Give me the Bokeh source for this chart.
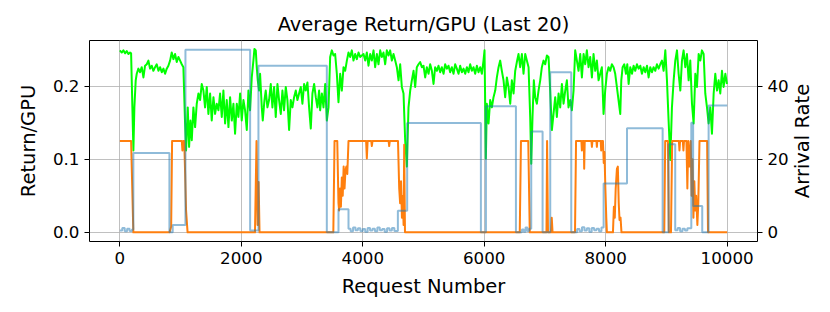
import math
from bokeh.plotting import figure
from bokeh.models import Range1d, LinearAxis, FixedTicker, PrintfTickFormatter, Label
from bokeh.embed import file_html
from bokeh.resources import INLINE

# ---- data ----
GREEN_X = [
    0, 31, 58, 86, 113, 141, 168, 185, 206, 223, 239, 261, 278, 305, 333, 360, 388, 415, 443, 470,
    497, 525, 552, 580, 607, 635, 662, 690, 717, 745, 772, 799, 827, 854, 882, 909, 937, 964, 992, 1019,
    1046, 1074, 1090, 1118, 1140, 1162, 1184, 1211, 1239, 1266, 1294, 1321, 1348, 1376, 1403, 1431, 1458, 1486, 1513, 1541,
    1568, 1595, 1623,
    1650, 1678, 1705, 1733, 1760, 1788, 1815, 1843, 1870, 1897, 1925, 1952, 1980, 2007, 2035, 2062, 2090, 2117, 2144, 2172,
    2199, 2216, 2238, 2254, 2271, 2293, 2309, 2337, 2353, 2381, 2402, 2430, 2457, 2485, 2512, 2540, 2567, 2595, 2622, 2650,
    2677, 2704, 2732, 2759, 2787, 2814, 2842, 2869, 2897, 2924, 2951, 2979, 3006, 3034, 3061, 3089, 3116, 3144, 3171, 3199,
    3226, 3253, 3281,
    3298, 3326, 3353, 3381, 3408, 3436, 3463, 3491, 3518, 3545, 3573, 3600, 3628, 3655, 3683, 3710, 3738, 3765, 3792, 3820,
    3847, 3875, 3902, 3930, 3957, 3985, 4012, 4040, 4067, 4094, 4122, 4149, 4177, 4204, 4232, 4259, 4287, 4314, 4341, 4369,
    4396, 4424, 4451, 4479, 4506, 4534, 4561, 4589, 4616, 4643, 4671, 4698, 4726, 4753, 4781, 4808, 4836, 4863, 4890, 4918,
    4945, 4973, 5000, 5028, 5055, 5083, 5110, 5138, 5165, 5192, 5220, 5247, 5275, 5302, 5330, 5357, 5385, 5412, 5439, 5467,
    5494, 5522, 5549, 5577, 5604, 5632, 5659, 5687, 5714, 5741, 5769, 5796, 5824, 5851, 5879, 5906, 5934, 5961, 5988, 6005,
    6027, 6043, 6071, 6098, 6126, 6153, 6181, 6208, 6236, 6263, 6290, 6318, 6345, 6373, 6400, 6428, 6455, 6483, 6510, 6537,
    6565,
    6592, 6620, 6647, 6675, 6702, 6730, 6757, 6774, 6795, 6817, 6839, 6867, 6894, 6922, 6949, 6977, 7004, 7032, 7059, 7086,
    7114, 7141, 7169, 7196, 7224, 7251, 7279, 7306, 7334, 7361, 7388, 7416, 7443, 7471, 7498, 7526, 7553, 7581, 7608, 7636,
    7663, 7690, 7718, 7745, 7773, 7800, 7828, 7855, 7883, 7910, 7937, 7965, 7992, 8020, 8047, 8075, 8102, 8130, 8157, 8184,
    8240, 8257, 8279, 8306, 8334, 8356, 8378, 8405, 8433, 8460, 8487, 8515, 8542, 8570, 8597, 8625, 8652, 8680, 8707, 8734,
    8762, 8789, 8817, 8844, 8872, 8899, 8927, 8954, 8982, 9009, 9036, 9064, 9091, 9119, 9146, 9174, 9201, 9229, 9256, 9283,
    9311, 9338, 9366, 9393, 9421, 9448, 9476, 9503, 9531, 9558, 9585, 9613, 9640, 9668, 9695, 9723, 9750, 9778, 9805, 9833,
    9860, 9887, 9915, 9942, 9970, 9997,
]
GREEN_Y = [
    0.249, 0.246, 0.249, 0.245, 0.248, 0.244, 0.246, 0.245, 0.171, 0.112, 0.171, 0.208, 0.217, 0.224, 0.219, 0.226, 0.212, 0.228, 0.230, 0.235,
    0.224, 0.228, 0.221, 0.226, 0.230, 0.221, 0.226, 0.219, 0.224, 0.217, 0.224, 0.228, 0.235, 0.246, 0.237, 0.244, 0.233, 0.240, 0.235, 0.230,
    0.226, 0.149, 0.112, 0.171, 0.117, 0.153, 0.126, 0.171, 0.144, 0.176, 0.190, 0.181, 0.203, 0.194, 0.171, 0.199, 0.162, 0.190, 0.153, 0.185,
    0.162, 0.176, 0.167,
    0.190, 0.158, 0.194, 0.149, 0.181, 0.144, 0.185, 0.153, 0.176, 0.135, 0.176, 0.158, 0.190, 0.153, 0.181, 0.167, 0.140, 0.194, 0.167, 0.212,
    0.235, 0.251, 0.249, 0.226, 0.208, 0.194, 0.217, 0.171, 0.153, 0.181, 0.194, 0.171, 0.181, 0.203, 0.171, 0.199, 0.158, 0.203, 0.181, 0.162,
    0.194, 0.167, 0.199, 0.181, 0.140, 0.181, 0.171, 0.185, 0.194, 0.181, 0.190, 0.199, 0.176, 0.203, 0.194, 0.205, 0.171, 0.142, 0.190, 0.203,
    0.185, 0.171, 0.194,
    0.167, 0.190, 0.171, 0.203, 0.153, 0.171, 0.240, 0.249, 0.242, 0.244, 0.217, 0.178, 0.217, 0.194, 0.226, 0.221, 0.235, 0.246, 0.240, 0.249,
    0.235, 0.244, 0.237, 0.246, 0.240, 0.242, 0.244, 0.235, 0.246, 0.228, 0.244, 0.235, 0.249, 0.226, 0.244, 0.230, 0.249, 0.240, 0.246, 0.230,
    0.249, 0.242, 0.249, 0.235, 0.244, 0.235, 0.226, 0.208, 0.230, 0.199, 0.190, 0.126, 0.090, 0.171, 0.194, 0.208, 0.221, 0.199, 0.226, 0.230,
    0.233, 0.226, 0.228, 0.212, 0.226, 0.217, 0.230, 0.221, 0.203, 0.226, 0.221, 0.228, 0.219, 0.226, 0.217, 0.230, 0.224, 0.228, 0.219, 0.226,
    0.217, 0.230, 0.224, 0.217, 0.228, 0.219, 0.224, 0.217, 0.226, 0.219, 0.230, 0.221, 0.226, 0.217, 0.228, 0.219, 0.226, 0.217, 0.235, 0.249,
    0.101, 0.176, 0.149, 0.181, 0.171, 0.185, 0.194, 0.212, 0.226, 0.235, 0.221, 0.208, 0.185, 0.212, 0.199, 0.176, 0.208, 0.190, 0.221, 0.233,
    0.244,
    0.226, 0.244, 0.217, 0.244, 0.235, 0.226, 0.158, 0.094, 0.158, 0.208, 0.185, 0.176, 0.194, 0.208, 0.226, 0.235, 0.230, 0.242, 0.240, 0.194,
    0.140, 0.162, 0.185, 0.158, 0.190, 0.171, 0.203, 0.176, 0.194, 0.208, 0.171, 0.181, 0.167, 0.194, 0.249, 0.235, 0.221, 0.244, 0.212, 0.244,
    0.230, 0.249, 0.226, 0.240, 0.212, 0.244, 0.221, 0.235, 0.208, 0.217, 0.226, 0.162, 0.194, 0.217, 0.226, 0.221, 0.230, 0.226, 0.217, 0.199,
    0.162, 0.208, 0.226, 0.230, 0.217, 0.230, 0.203, 0.226, 0.217, 0.228, 0.221, 0.230, 0.224, 0.228, 0.217, 0.226, 0.219, 0.228, 0.212, 0.226,
    0.219, 0.226, 0.221, 0.230, 0.224, 0.230, 0.235, 0.221, 0.249, 0.208, 0.153, 0.099, 0.171, 0.208, 0.235, 0.249, 0.217, 0.194, 0.235, 0.249,
    0.226, 0.244, 0.208, 0.235, 0.176, 0.149, 0.217, 0.199, 0.244, 0.235, 0.249, 0.244, 0.190, 0.171, 0.149, 0.171, 0.135, 0.190, 0.217, 0.194,
    0.208, 0.190, 0.221, 0.199, 0.217, 0.203,
]

ORANGE_X = [
    0, 185, 222, 820, 845, 860, 1020, 1030, 1045, 1060, 1075, 1090, 1115, 2225, 2250, 2268, 2285, 2300,
    3515, 3535, 3580, 3600, 3610, 3625, 3640, 3655, 3670, 3685, 3700, 3715, 3730, 3745, 3765,
    4055, 4067, 4080, 4140, 4149, 4160, 4425, 4435, 4445, 4580, 4600, 4615, 4630, 4645, 4660, 4672, 4682, 4695,
    6585, 6605, 6725, 6750, 7025, 7035, 7050, 7100, 7112, 7125, 7495, 7512,
    7600, 7608, 7620, 7640, 7646, 7655, 7765, 7773, 7782, 7848, 7855, 7862, 7918, 7926, 7935,
    7955, 7968, 7980, 7995, 8010, 8020, 8120, 8135, 8150, 8165, 8185, 8200, 8215, 8228, 8245, 8260,
    8965, 8980, 9025, 9040, 9075, 9095, 9205, 9215, 9225, 9270, 9280, 9290,
    9330, 9345, 9360, 9380, 9400, 9415, 9430, 9445, 9460, 9475, 9490, 9510, 9525, 9545, 9670, 9685, 10000,
]
ORANGE_Y = [
    0.125, 0.125, 0, 0, 0.008, 0.125, 0.125, 0.112, 0.125, 0.125, 0.08, 0.03, 0, 0, 0.125, 0.01, 0.069, 0,
    0, 0.125, 0.125, 0.04, 0.03, 0.06, 0.035, 0.075, 0.05, 0.09, 0.06, 0.085, 0.09, 0.08, 0.125,
    0.125, 0.101, 0.125, 0.125, 0.118, 0.125, 0.125, 0.118, 0.125, 0.125, 0.06, 0.04, 0.07, 0.02, 0.05, 0.01, 0.12, 0,
    0, 0.125, 0.125, 0, 0, 0.125, 0, 0, 0.02, 0, 0, 0.125,
    0.125, 0.112, 0.125, 0.125, 0.087, 0.125, 0.125, 0.117, 0.125, 0.125, 0.117, 0.125, 0.125, 0.112, 0.125,
    0.125, 0.095, 0.11, 0.06, 0.02, 0, 0, 0.035, 0.02, 0.06, 0.087, 0.09, 0.04, 0.017, 0.02, 0,
    0, 0.125, 0.125, 0, 0, 0.125, 0.125, 0.112, 0.125, 0.125, 0.112, 0.125,
    0.125, 0.06, 0.125, 0.09, 0.125, 0.05, 0.1, 0.02, 0.07, 0.03, 0.05, 0.01, 0.04, 0.125, 0.125, 0, 0,
]

# arrival rate (right axis), step values holding from each x to the next
RATE_X = [
    0, 40, 80, 120, 160, 200, 222, 816, 870, 1080, 2145, 2282, 3408, 3600,
    3765, 3800, 3840, 3880, 3920, 3960, 4000, 4040, 4080, 4120,
    4160, 4200, 4240, 4280, 4320, 4360, 4400, 4440, 4480, 4520,
    4578, 4731, 5945, 6028, 6522, 6620, 6650, 6680, 6710, 6740,
    6774, 6961, 7087, 7433, 7530, 7570, 7610, 7650, 7690, 7730, 7770, 7810, 7850, 7890, 7930,
    7966, 8351, 8938, 9036, 9145, 9185, 9225, 9265, 9305, 9345,
    9410, 9440, 9590, 9695, 10000,
]
RATE_Y = [
    0.5, 1.2, 0.3, 1.0, 0.4, 0.8, 21.7, 0, 2, 50, 0.5, 45.6, 0, 6.3,
    1.0, 0.3, 1.3, 0.6, 1.1, 0.4, 0.9, 0.2, 1.2, 0.5,
    1.0, 0.3, 1.3, 0.6, 0.9, 0.2, 1.1, 0.5, 1.2, 0.4,
    5.9, 29.9, 0, 34.5, 0, 0.8, 0.2, 1.3, 0.4, 1.0,
    27.6, 0, 43.8, 0, 0.9, 0.3, 1.4, 0.5, 1.1, 0.2, 1.2, 0.6, 1.0, 0.3, 1.3,
    13.4, 28.5, 0, 24.1, 0.6, 1.2, 0.3, 1.0, 0.5, 1.1,
    30, 7.2, 0, 34.7, 34.7,
]

X_TICKS = [0, 2000, 4000, 6000, 8000, 10000]
LEFT_TICKS = [0.0, 0.1, 0.2]
RIGHT_TICKS = [0, 20, 40]

FONT = "DejaVu Sans"

p = figure(
    width=830, height=312,
    x_range=Range1d(-500, 10500), y_range=Range1d(-0.0125, 0.2625),
    output_backend="svg", toolbar_location=None,
    title="Average Return/GPU (Last 20)",
    min_border_left=89, min_border_right=73, min_border_top=40, min_border_bottom=71,
)
p.extra_y_ranges = {"rate": Range1d(-2.5, 52.5)}

p.title.align = "center"
p.title.text_font = FONT
p.title.text_font_size = "19.5px"
p.title.text_font_style = "normal"
p.title.text_color = "black"
p.title.standoff = 9

p.outline_line_color = "black"
p.outline_line_width = 1
p.background_fill_color = "white"
p.border_fill_color = "white"

xa = p.xaxis[0]
xa.ticker = FixedTicker(ticks=X_TICKS)
xa.axis_label = "Request Number"
ya = p.yaxis[0]
ya.ticker = FixedTicker(ticks=LEFT_TICKS)
ya.formatter = PrintfTickFormatter(format="%.1f")
ya.axis_label = "Return/GPU"

ra = LinearAxis(y_range_name="rate", ticker=FixedTicker(ticks=RIGHT_TICKS))
p.add_layout(ra, "right")

for ax in (xa, ya, ra):
    ax.axis_line_color = None
    ax.major_tick_out = 5
    ax.major_tick_in = 0
    ax.minor_tick_out = 0
    ax.minor_tick_in = 0
    ax.major_tick_line_color = "black"
    ax.major_tick_line_width = 1
    ax.major_label_text_font = FONT
    ax.major_label_text_font_size = "16.7px"
    ax.major_label_text_color = "black"
    ax.major_label_standoff = 5
    ax.axis_label_text_font = FONT
    ax.axis_label_text_font_size = "19.5px"
    ax.axis_label_text_font_style = "normal"
    ax.axis_label_text_color = "black"
xa.axis_label_standoff = 8
ya.axis_label_standoff = 10

# right-axis title in its own side panel, reading bottom-to-top as in the reference
rate_title = Label(x=11, x_units="screen", y=0.125, y_units="data", text="Arrival Rate",
                   angle=math.pi / 2, angle_units="rad", text_align="center", text_baseline="middle",
                   text_font=FONT, text_font_size="19.5px", text_color="black")
p.add_layout(rate_title, "right")

for g in (p.xgrid[0], p.ygrid[0]):
    g.grid_line_color = "#b0b0b0"
    g.grid_line_width = 0.8

p.line(GREEN_X, GREEN_Y, line_color="#00ff00", line_width=2, line_join="round")
p.line(ORANGE_X, ORANGE_Y, line_color="#ff7f0e", line_width=2, line_join="round")
p.step(RATE_X, RATE_Y, mode="after", line_color="#1f77b4", line_alpha=0.5, line_width=2,
       y_range_name="rate")

open("out.html", "w").write(file_html(p, INLINE))
